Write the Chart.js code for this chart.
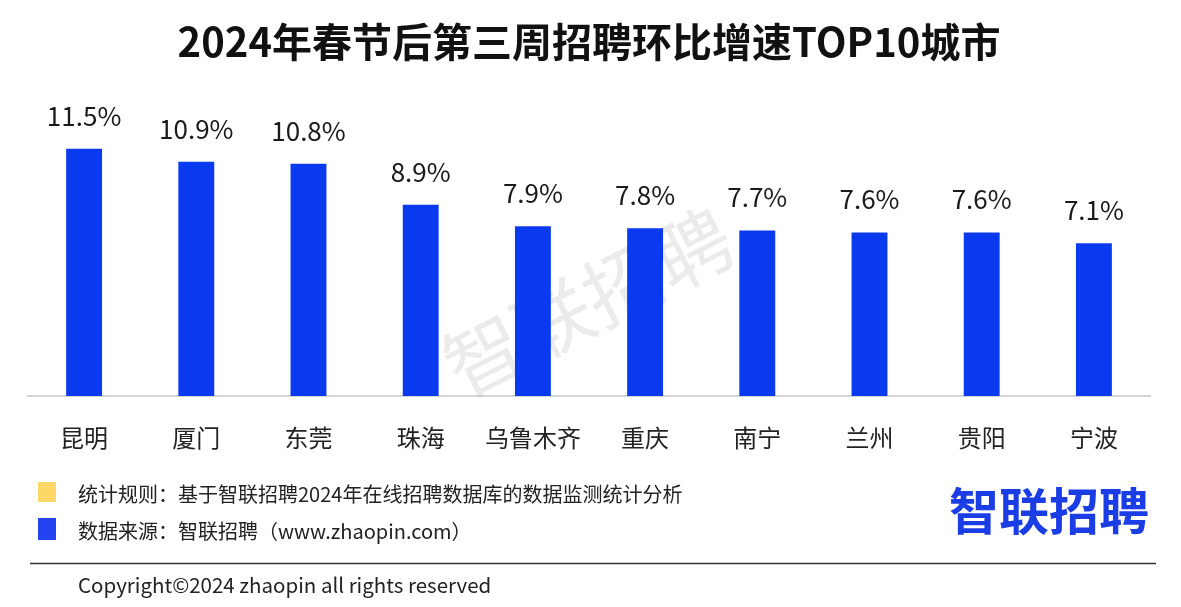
<!DOCTYPE html>
<html><head><meta charset="utf-8">
<script src="https://cdn.jsdelivr.net/npm/chart.js@4/dist/chart.umd.min.js"></script>
<style>html,body{margin:0;padding:0;background:#fff}#wrap{width:1181px;height:607px;position:relative}</style>
</head><body><div id="wrap"><canvas id="c" width="1181" height="607"></canvas></div>
<script>
const titleText = '2024年春节后第三周招聘环比增速TOP10城市';
const cities = ['昆明','厦门','东莞','珠海','乌鲁木齐','重庆','南宁','兰州','贵阳','宁波'];
const growth = [11.5,10.9,10.8,8.9,7.9,7.8,7.7,7.6,7.6,7.1];
const noteRule = '统计规则：基于智联招聘2024年在线招聘数据库的数据监测统计分析';
const noteSource = '数据来源：智联招聘（www.zhaopin.com）';
const copyright = 'Copyright©2024 zhaopin all rights reserved';
const brand = '智联招聘';
const FONT = '"Noto Sans CJK SC","Noto Sans",sans-serif';

const deco = {
  id:'deco',
  beforeDatasetsDraw(chart){
    const ctx = chart.ctx;
    ctx.save();
    ctx.translate(588, 302);
    ctx.rotate(-27*Math.PI/180);
    ctx.font = '78px '+FONT;
    ctx.fillStyle = 'rgba(190,190,190,0.3)';
    ctx.textAlign='center'; ctx.textBaseline='middle';
    ctx.fillText(brand,0,0);
    ctx.restore();
  },
  afterDraw(chart){
    const ctx = chart.ctx;
    ctx.save();
    // title
    ctx.fillStyle='#111';
    ctx.font='bold 40px '+FONT;
    ctx.textAlign='center'; ctx.textBaseline='middle';
    ctx.fillText(titleText, 589, 42);
    // value labels
    const meta = chart.getDatasetMeta(0);
    ctx.font='26px '+FONT;
    ctx.fillStyle='#1a1a1a';
    meta.data.forEach((b,i)=>{
      ctx.fillText(growth[i].toFixed(1)+'%', b.x, b.y-33);
    });
    // notes
    ctx.fillStyle='#fdd866'; ctx.fillRect(38,482,18,20);
    ctx.fillStyle='#2444f2'; ctx.fillRect(38,518,18,22);
    ctx.fillStyle='#222'; ctx.textAlign='left';
    ctx.font='20px '+FONT;
    ctx.fillText(noteRule, 78, 494);
    ctx.fillText(noteSource, 78, 531);
    // divider
    ctx.strokeStyle='#333'; ctx.lineWidth=1.5;
    ctx.beginPath(); ctx.moveTo(30,563.5); ctx.lineTo(1156,563.5); ctx.stroke();
    ctx.fillStyle='#222'; ctx.font='20.5px '+FONT;
    ctx.fillText(copyright, 78, 585);
    // brand
    ctx.fillStyle='#1a3de6'; ctx.font='bold 50px '+FONT;
    ctx.textAlign='center';
    ctx.fillText(brand, 1049, 511);
    ctx.restore();
  }
};

new Chart(document.getElementById('c'), {
  type:'bar',
  data:{labels:cities,datasets:[{data:growth,backgroundColor:'#0a3af0',categoryPercentage:1,barPercentage:0.32}]},
  options:{
    responsive:false,animation:false,
    layout:{padding:{left:28,right:31,top:95,bottom:0}},
    plugins:{legend:{display:false},tooltip:{enabled:false}},
    scales:{
      x:{
        grid:{display:false,drawTicks:false},
        border:{display:true,color:'#d4d4d4',width:2},
        ticks:{color:'#222',font:{size:24,family:FONT},padding:27,maxRotation:0},
        afterFit(s){s.height=211;}
      },
      y:{display:false,min:0,max:14}
    }
  },
  plugins:[deco]
});
</script></body></html>
